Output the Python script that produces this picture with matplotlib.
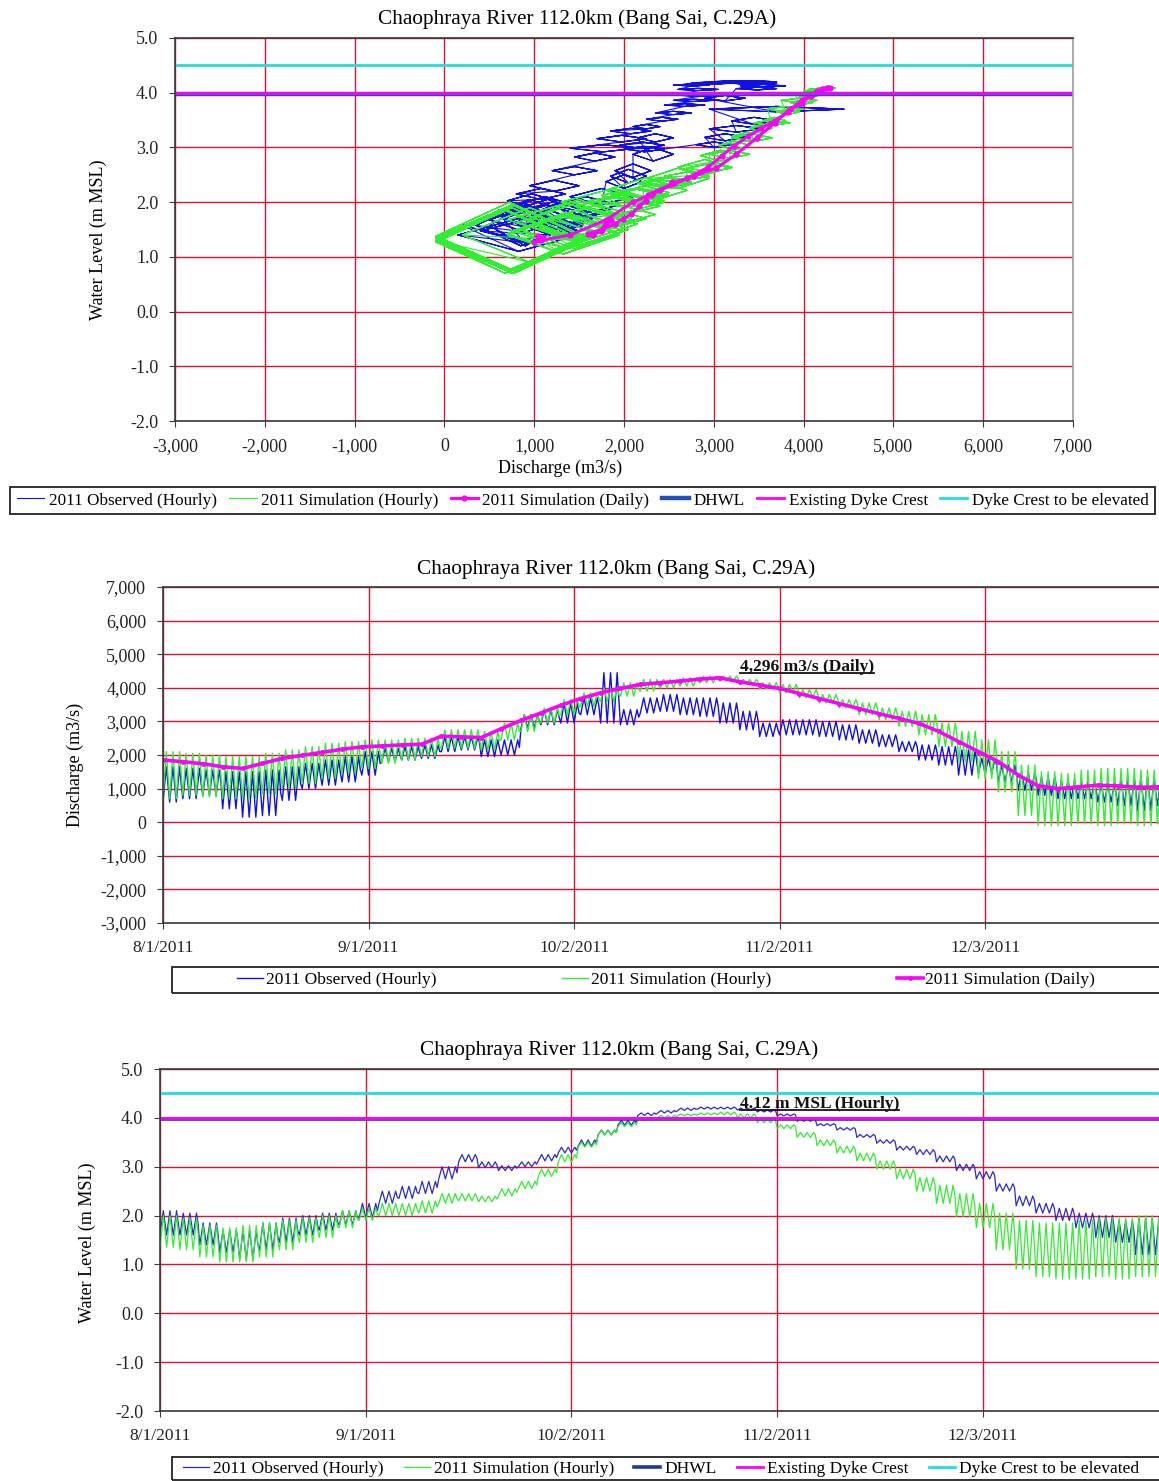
import numpy as np
import matplotlib
matplotlib.use("Agg")
import matplotlib.pyplot as plt
from matplotlib.patches import Rectangle
from matplotlib.lines import Line2D

plt.rcParams['font.family'] = ['Liberation Serif', 'DejaVu Serif']

# values read every 3 days from 8/1/2011 (day 0) to 12/29/2011 (day 150)
days = np.arange(0, 151, 3)

# discharge (m3/s)
q_sim_daily = [1850, 1800, 1740, 1650, 1600, 1750, 1900, 1990, 2080, 2170,
               2240, 2270, 2300, 2320, 2560, 2540, 2520, 2780, 3030, 3250,
               3480, 3680, 3850, 3980, 4100, 4150, 4200, 4260, 4296, 4180,
               4080, 3980, 3830, 3680, 3530, 3380, 3230, 3090, 2940, 2700,
               2400, 2100, 1800, 1400, 1080, 1000, 1050, 1100, 1080, 1040,
               1050]
q_obs_hi = [1650, 1600, 1550, 1500, 1500, 1550, 1650, 1750, 1850, 1950,
            2100, 2200, 2250, 2300, 2550, 2550, 2450, 2450, 3200, 3350,
            3550, 3700, 4450, 3350, 3700, 3800, 3700, 3700, 3550, 3300,
            2950, 3050, 3050, 3000, 2900, 2750, 2600, 2400, 2300, 2250,
            2150, 1900, 1700, 1500, 1350, 1250, 1200, 1150, 1300, 1350,
            1300]
q_obs_lo = [600, 700, 800, 400, 150, 200, 650, 1000, 1100, 1200,
            1400, 1800, 1850, 1900, 2100, 2150, 1950, 2000, 2800, 2900,
            2950, 3200, 2950, 2900, 3250, 3300, 3200, 3150, 2950, 2750,
            2550, 2600, 2600, 2550, 2450, 2350, 2250, 2100, 1850, 1700,
            1400, 1450, 1200, 950, 800, 700, 700, 600, 500, 350,
            500]
q_sim_hi = [2100, 2050, 2000, 1950, 1950, 2050, 2150, 2250, 2350, 2400,
            2450, 2450, 2500, 2500, 2750, 2750, 2700, 2950, 3200, 3400,
            3650, 3850, 4000, 4150, 4250, 4250, 4300, 4350, 4350, 4250,
            4150, 4100, 3950, 3800, 3650, 3550, 3400, 3300, 3200, 2950,
            2700, 2450, 2100, 1700, 1500, 1450, 1550, 1600, 1600, 1550,
            1600]
q_sim_lo = [700, 800, 750, 700, 700, 850, 1000, 1150, 1300, 1450,
            1600, 1750, 1850, 1950, 2200, 2200, 2150, 2450, 2700, 2950,
            3200, 3450, 3600, 3750, 3900, 4000, 4050, 4150, 4200, 4100,
            3950, 3850, 3700, 3550, 3400, 3200, 3050, 2850, 2600, 2250,
            1800, 1300, 900, 200, -100, -100, -50, -100, -50, -100,
            -50]

# water level (m MSL)
h_obs_hi = [2.10, 2.05, 1.85, 1.70, 1.70, 1.85, 1.95, 2.00, 2.05, 2.10,
            2.25, 2.50, 2.60, 2.70, 3.00, 3.25, 3.10, 3.02, 3.10, 3.25,
            3.40, 3.55, 3.75, 3.95, 4.10, 4.15, 4.20, 4.22, 4.22, 4.20,
            4.16, 4.08, 3.98, 3.88, 3.80, 3.66, 3.55, 3.42, 3.35, 3.22,
            3.05, 2.90, 2.65, 2.40, 2.25, 2.15, 2.05, 2.00, 1.90, 1.95,
            1.95]
h_obs_lo = [1.60, 1.60, 1.40, 1.25, 1.10, 1.30, 1.45, 1.60, 1.70, 1.80,
            1.95, 2.25, 2.35, 2.45, 2.75, 3.10, 2.98, 2.92, 3.00, 3.12,
            3.28, 3.42, 3.65, 3.85, 4.05, 4.10, 4.15, 4.18, 4.18, 4.16,
            4.12, 4.04, 3.93, 3.84, 3.75, 3.60, 3.48, 3.34, 3.25, 3.10,
            2.92, 2.75, 2.50, 2.20, 2.05, 1.90, 1.75, 1.55, 1.45, 1.20,
            1.20]
h_sim_hi = [2.00, 1.95, 1.80, 1.75, 1.80, 1.85, 1.90, 1.95, 2.00, 2.10,
            2.15, 2.25, 2.25, 2.30, 2.45, 2.45, 2.40, 2.55, 2.70, 2.95,
            3.25, 3.50, 3.75, 3.90, 4.00, 4.05, 4.08, 4.10, 4.12, 4.08,
            3.98, 3.86, 3.70, 3.55, 3.42, 3.28, 3.12, 2.95, 2.78, 2.62,
            2.45, 2.25, 2.05, 1.90, 1.85, 1.85, 1.90, 1.95, 1.95, 2.00,
            1.95]
h_sim_lo = [1.35, 1.30, 1.15, 1.05, 1.05, 1.15, 1.30, 1.45, 1.55, 1.75,
            1.90, 2.00, 2.00, 2.05, 2.25, 2.30, 2.28, 2.40, 2.55, 2.80,
            3.10, 3.40, 3.65, 3.82, 3.95, 4.00, 4.04, 4.06, 4.06, 4.00,
            3.90, 3.78, 3.60, 3.43, 3.28, 3.12, 2.95, 2.75, 2.50, 2.25,
            1.98, 1.75, 1.30, 0.90, 0.75, 0.70, 0.70, 0.75, 0.70, 0.75,
            0.75]

dhwl = 3.97
dyke_crest = 4.0
dyke_elevated = 4.5

date_ticks = [0, 31, 62, 93, 124]
date_labels = ['8/1/2011', '9/1/2011', '10/2/2011', '11/2/2011', '12/3/2011']

title = 'Chaophraya River 112.0km (Bang Sai, C.29A)'

C_OBS = '#1010e8'
C_SIM = '#30ee30'
C_DAILY = '#ff00ff'
C_DHWL = '#2050c0'
C_CREST = '#ff00ff'
C_ELEV = '#20dede'
C_GRID = '#e01030'
C_SPINE = '#3a3a3a'


def tidal(lo, hi, shift=0):
    # one swing per day inside each 3-day block: low, mid, high, mid
    t, v = [], []
    for i, d in enumerate(days):
        mid = (lo[i] + hi[i]) / 2
        cyc = [lo[i], mid, hi[i], mid]
        cyc = cyc[shift:] + cyc[:shift]
        for k in range(3):
            for j in range(4):
                t.append(d + k + j / 4)
                v.append(cyc[j])
    return np.array(t), np.array(v)


W, H = 1159, 1481
fig = plt.figure(figsize=(W / 100, H / 100), dpi=100)


def box(x0, y0, x1, y1):
    return [x0 / W, 1 - y1 / H, (x1 - x0) / W, (y1 - y0) / H]


def style(ax):
    ax.set_axisbelow(True)
    ax.grid(True, color=C_GRID, lw=1.0)
    for s in ax.spines.values():
        s.set_color(C_SPINE)
        s.set_linewidth(1.2)
    ax.tick_params(direction='out', length=4, color=C_SPINE, labelsize=13,
                   pad=8, labelcolor='#222222')


def underline(t):
    bb = t.get_window_extent(renderer=fig.canvas.get_renderer())
    y = (bb.y0 + 2) / H
    fig.add_artist(Line2D([bb.x0 / W, bb.x1 / W], [y, y], transform=fig.transFigure,
                          color='#111111', lw=1.3))


def legend_frame(x0, y0, x1, y1):
    fig.add_artist(Rectangle((x0 / W, 1 - y1 / H), (x1 - x0) / W, (y1 - y0) / H,
                             transform=fig.transFigure, fill=False,
                             ec='#222222', lw=1.3))


# ---- panel 1: water level vs discharge ----
ax1 = fig.add_axes(box(175, 38, 1073, 421))
style(ax1)
tq, qo = tidal(q_obs_lo, q_obs_hi)
_, ho = tidal(h_obs_lo, h_obs_hi, 1)
_, qs = tidal(q_sim_lo, q_sim_hi)
_, hs = tidal(h_sim_lo, h_sim_hi, 1)
h_daily = (np.array(h_sim_lo) + np.array(h_sim_hi)) / 2
l1, = ax1.plot(qo, ho, color=C_OBS, lw=0.8, label='2011 Observed (Hourly)')
l2, = ax1.plot(qs, hs, color=C_SIM, lw=0.8, label='2011 Simulation (Hourly)')
l3, = ax1.plot(q_sim_daily, h_daily, color=C_DAILY, lw=2.2, marker='o', ms=3.5,
               label='2011 Simulation (Daily)')
l4 = ax1.axhline(dhwl, color=C_DHWL, lw=3.2, label='DHWL')
l5 = ax1.axhline(dyke_crest, color=C_CREST, lw=2.0, label='Existing Dyke Crest')
l6 = ax1.axhline(dyke_elevated, color=C_ELEV, lw=2.0, label='Dyke Crest to be elevated')
ax1.set_xlim(-3000, 7000)
ax1.set_ylim(-2, 5)
ax1.set_xticks(range(-3000, 7001, 1000))
ax1.set_xticklabels(['{:,}'.format(v) for v in range(-3000, 7001, 1000)])
ax1.set_yticks(np.arange(-2, 5.01, 1))
ax1.set_yticklabels(['%.1f' % v for v in np.arange(-2, 5.01, 1)])
ax1.spines['right'].set_color('#a0a0a0')
fig.text(577 / W, 1 - 19 / H, title, ha='center', va='center', fontsize=15.3)
fig.text(560 / W, 1 - 468 / H, 'Discharge (m3/s)', ha='center', va='center', fontsize=13)
fig.text(98 / W, 1 - 240 / H, 'Water Level (m MSL)', ha='center', va='center',
         rotation=90, fontsize=13)
fig.legend(handles=[l1, l2, l3, l4, l5, l6], loc='center left',
           bbox_to_anchor=(17 / W, 1 - 500.5 / H), ncol=6, frameon=False,
           fontsize=12.35, handlelength=1.6, handletextpad=0.25, columnspacing=0.72,
           borderpad=0, borderaxespad=0)
legend_frame(10, 487, 1155, 514)

# ---- panel 2: discharge hydrograph ----
ax2 = fig.add_axes(box(163, 587, 163 + 152 * 6.63, 923))
style(ax2)
t, v = tidal(q_obs_lo, q_obs_hi)
m1, = ax2.plot(t, v, color=C_OBS, lw=1.0, label='2011 Observed (Hourly)')
t, v = tidal(q_sim_lo, q_sim_hi)
m2, = ax2.plot(t, v, color=C_SIM, lw=1.0, label='2011 Simulation (Hourly)')
m3, = ax2.plot(days, q_sim_daily, color=C_DAILY, lw=2.6, marker='o', ms=2.5,
               label='2011 Simulation (Daily)')
ax2.set_xlim(0, 152)
ax2.set_ylim(-3000, 7000)
ax2.set_xticks(date_ticks)
ax2.set_xticklabels(date_labels, fontsize=12.5)
ax2.set_yticks(range(-3000, 7001, 1000))
ax2.set_yticklabels(['{:,}'.format(v) for v in range(-3000, 7001, 1000)])
fig.text(616 / W, 1 - 569 / H, title, ha='center', va='center', fontsize=15.3)
fig.text(75 / W, 1 - 765 / H, 'Discharge (m3/s)', ha='center', va='center',
         rotation=90, fontsize=13)
a2 = ax2.text(87.0, 4613, '4,296 m3/s (Daily)', fontsize=12.5, fontweight='bold',
              va='center', ha='left', color='#111111')
fig.legend(handles=[m1, m2, m3], loc='center left',
           bbox_to_anchor=(237 / W, 1 - 980 / H), ncol=3, frameon=False,
           fontsize=12.5, handlelength=1.5, handletextpad=0.15, columnspacing=7.25,
           borderpad=0, borderaxespad=0)
legend_frame(172, 967, 1170, 993)

# ---- panel 3: water level hydrograph ----
ax3 = fig.add_axes(box(160, 1069, 160 + 152 * 6.637, 1411))
style(ax3)
t, v = tidal(h_obs_lo, h_obs_hi)
n1, = ax3.plot(t, v, color='#2a2ad0', lw=0.9, label='2011 Observed (Hourly)')
t, v = tidal(h_sim_lo, h_sim_hi)
n2, = ax3.plot(t, v, color=C_SIM, lw=0.9, label='2011 Simulation (Hourly)')
n3 = ax3.axhline(dhwl, color='#203a9a', lw=2.6, label='DHWL')
n4 = ax3.axhline(dyke_crest, color=C_CREST, lw=2.0, label='Existing Dyke Crest')
n5 = ax3.axhline(dyke_elevated, color=C_ELEV, lw=2.0, label='Dyke Crest to be elevated')
ax3.set_xlim(0, 152)
ax3.set_ylim(-2, 5)
ax3.set_xticks(date_ticks)
ax3.set_xticklabels(date_labels, fontsize=12.5)
ax3.set_yticks(np.arange(-2, 5.01, 1))
ax3.set_yticklabels(['%.1f' % v for v in np.arange(-2, 5.01, 1)])
fig.text(619 / W, 1 - 1050 / H, title, ha='center', va='center', fontsize=15.3)
fig.text(87 / W, 1 - 1243 / H, 'Water Level (m MSL)', ha='center', va='center',
         rotation=90, fontsize=13)
a3 = ax3.text(87.4, 4.28, '4.12 m MSL (Hourly)', fontsize=12.5, fontweight='bold',
              va='center', ha='left', color='#111111')
fig.legend(handles=[n1, n2, n3, n4, n5], loc='center left',
           bbox_to_anchor=(183 / W, 1 - 1469 / H), ncol=5, frameon=False,
           fontsize=12.5, handlelength=1.5, handletextpad=0.25, columnspacing=1.15,
           borderpad=0, borderaxespad=0)
legend_frame(172, 1457, 1170, 1480)

fig.canvas.draw()
underline(a2)
underline(a3)

fig.savefig('out.png', dpi=100)
